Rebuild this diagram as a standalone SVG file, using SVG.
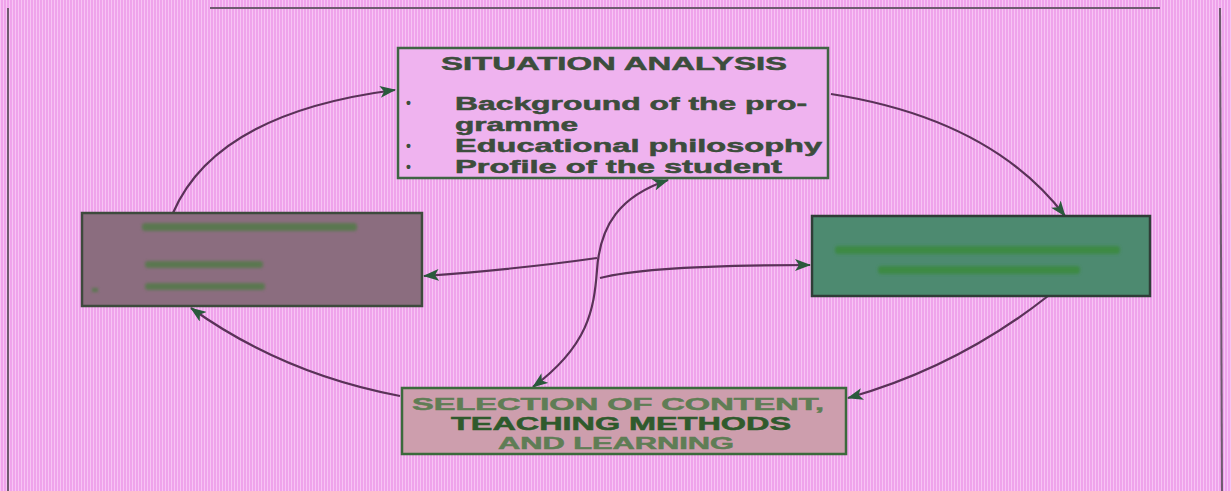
<svg xmlns="http://www.w3.org/2000/svg" width="1231" height="491" viewBox="0 0 1231 491">
  <defs>
    <pattern id="stripes" width="3" height="10" patternUnits="userSpaceOnUse">
      <rect width="3" height="10" fill="#efa3eb"/>
      <rect width="1" height="10" fill="#f7c4f4"/>
    </pattern>
    <marker id="arr" viewBox="0 0 16 12" refX="15" refY="6" markerWidth="16" markerHeight="12" markerUnits="userSpaceOnUse" orient="auto-start-reverse">
      <path d="M0,0 L16,6 L0,12 L4,6 Z" fill="#2a5a3c"/>
    </marker>
    <filter id="smear" x="-5%" y="-50%" width="110%" height="200%">
      <feGaussianBlur stdDeviation="1.6"/>
    </filter>
    <style>
      .frame { fill: none; stroke: #6f5a6f; stroke-width: 2; }
      .conn { fill: none; stroke: #5a3258; stroke-width: 2.2; marker-end: url(#arr); }
      .t { font-family: "Liberation Sans", Arial, sans-serif; font-weight: bold; stroke-width: 0.5; }
      .top { fill: #3c4d3c; stroke: #3c4d3c; font-size: 18px; }
      .bul { fill: #3c4d3c; font-size: 14px; }
      .bot1 { fill: #5f7d55; stroke: #5f7d55; font-size: 16px; }
      .bot2 { fill: #2f5a2c; stroke: #2f5a2c; font-size: 18px; }
      .smear { filter: url(#smear); }
    </style>
  </defs>

  <rect width="1231" height="491" fill="url(#stripes)"/>

  <!-- outer frame -->
  <g id="frame">
    <line class="frame" x1="8" y1="8" x2="8" y2="491"/>
    <line class="frame" x1="1220" y1="8" x2="1222" y2="491"/>
    <line class="frame" x1="210" y1="8" x2="1160" y2="8" stroke-width="1.5"/>
  </g>

  <!-- connectors -->
  <g id="connectors">
    <path class="conn" d="M173,213 Q216,113 395,90"/>
    <path class="conn" d="M831,94 Q991,119 1065,216"/>
    <path class="conn" d="M1048,296 Q958,367 848,398"/>
    <path class="conn" d="M400,396 Q283,374 191,308"/>
    <path class="conn" marker-start="url(#arr)" d="M533,387 C588,346 594,310 597,270 C600,225 620,196 668,180"/>
    <path class="conn" d="M597,258 Q520,269 424,276"/>
    <path class="conn" d="M600,278 Q650,265 810,265"/>
  </g>

  <!-- top node -->
  <g id="situation-analysis">
    <rect x="398" y="48" width="430" height="130" fill="#efb3ef" stroke="#3f6443" stroke-width="2.5"/>
    <text class="t top" x="441" y="70" textLength="346" lengthAdjust="spacingAndGlyphs">SITUATION ANALYSIS</text>
    <text class="t bul" x="406" y="108">•</text>
    <text class="t top" x="455" y="110" textLength="352" lengthAdjust="spacingAndGlyphs">Background of the pro-</text>
    <text class="t top" x="455" y="131" textLength="123" lengthAdjust="spacingAndGlyphs">gramme</text>
    <text class="t bul" x="406" y="151">•</text>
    <text class="t top" x="455" y="152" textLength="367" lengthAdjust="spacingAndGlyphs">Educational philosophy</text>
    <text class="t bul" x="406" y="172">•</text>
    <text class="t top" x="455" y="173" textLength="327" lengthAdjust="spacingAndGlyphs">Profile of the student</text>
  </g>

  <!-- left node (text illegible in reference) -->
  <g id="left-node">
    <rect x="82" y="213" width="340" height="93" fill="#8b6d7f" stroke="#3d4a3c" stroke-width="2.5"/>
    <g class="smear" fill="#4f7a45" opacity="0.8">
      <rect x="142" y="223" width="215" height="8" rx="3"/>
      <rect x="145" y="261" width="118" height="7" rx="3"/>
      <rect x="145" y="283" width="120" height="7" rx="3"/>
      <rect x="92" y="288" width="6" height="4"/>
    </g>
  </g>

  <!-- right node (text illegible in reference) -->
  <g id="right-node">
    <rect x="812" y="216" width="338" height="80" fill="#4d8a70" stroke="#2f3d37" stroke-width="2.5"/>
    <g class="smear" fill="#3b8a3e" opacity="0.85">
      <rect x="835" y="246" width="285" height="8" rx="3"/>
      <rect x="878" y="266" width="202" height="8" rx="3"/>
    </g>
  </g>

  <!-- bottom node -->
  <g id="selection-of-content">
    <rect x="402" y="388" width="444" height="66" fill="#cd9ead" stroke="#3b6a3b" stroke-width="2.5"/>
    <text class="t bot1" x="412" y="410" textLength="412" lengthAdjust="spacingAndGlyphs">SELECTION OF CONTENT,</text>
    <text class="t bot2" x="451" y="430" textLength="340" lengthAdjust="spacingAndGlyphs">TEACHING METHODS</text>
    <text class="t bot1" x="498" y="449" textLength="236" lengthAdjust="spacingAndGlyphs">AND LEARNING</text>
  </g>
</svg>
